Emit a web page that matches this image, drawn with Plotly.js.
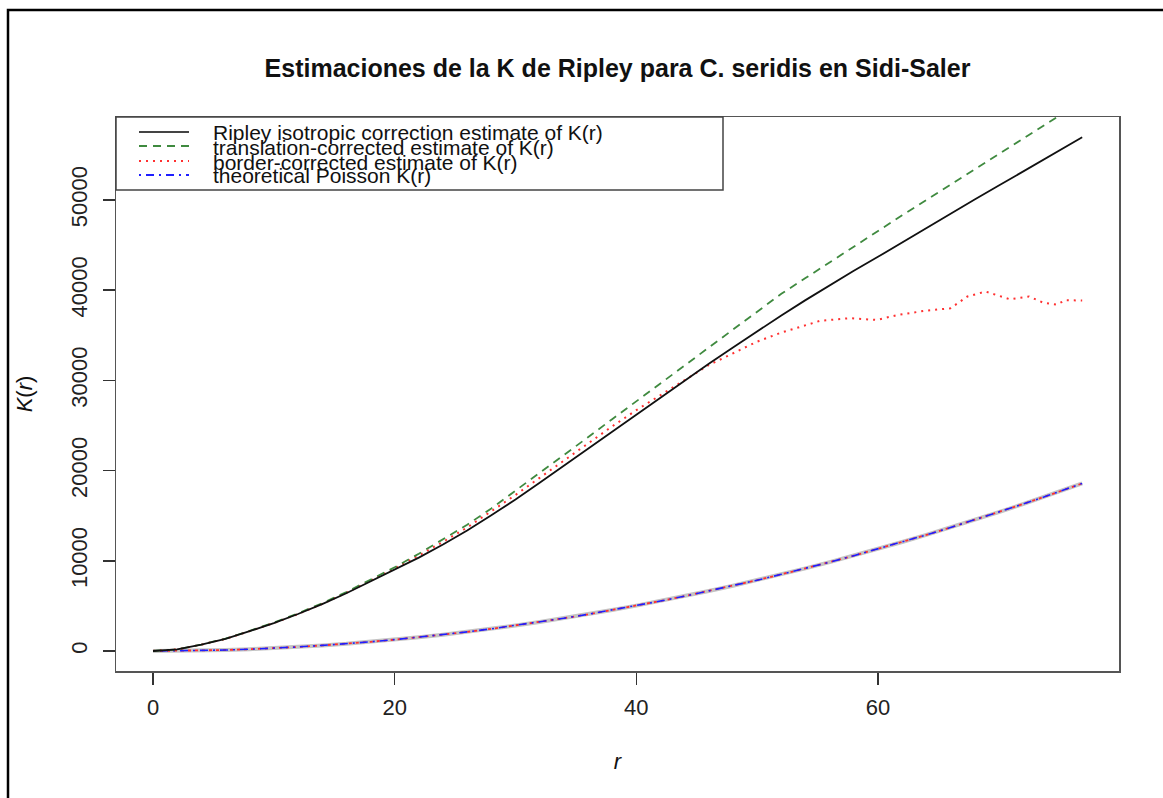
<!DOCTYPE html>
<html>
<head>
<meta charset="utf-8">
<script src="https://cdn.plot.ly/plotly-3.0.1.min.js"></script>
<style>
html,body{margin:0;padding:0;background:#fff;}
#chart{width:1163px;height:798px;}
</style>
</head>
<body>
<div id="chart"></div>
<script>
// r values (shared grid for iso, trans and theoretical)
const rGrid = [0,2,4,6,8,10,12,14,16,18,20,22,24,26,28,30,32,34,36,38,40,42,44,46,48,50,52,54,56,58,60,62,64,66,68,70,72,74,76,76.9];
const kIso = [0,180,700,1350,2200,3100,4100,5200,6400,7700,9000,10350,11800,13350,15050,16800,18650,20500,22400,24300,26200,28100,30000,31850,33650,35450,37200,38900,40550,42150,43700,45300,46900,48500,50050,51600,53150,54700,56250,56950];
const kTrans = [0,180,710,1370,2230,3150,4170,5300,6530,7870,9280,10780,12350,14000,15800,17750,19700,21700,23700,25700,27650,29650,31650,33650,35650,37650,39600,41350,43100,44850,46600,48300,50000,51700,53400,55100,56800,58500,60200,60950];
const kTheo = [0,10,50,110,200,310,450,620,800,1020,1260,1520,1810,2120,2460,2830,3220,3630,4070,4540,5030,5540,6080,6650,7240,7850,8500,9160,9850,10570,11310,12080,12870,13690,14530,15390,16290,17200,18150,18580];
// border-corrected estimate (own r grid)
const rBord = [0,2,4,6,8,10,12,14,16,18,20,22,24,26,28,30,32,34,36,38,40,42,44,46,48,50,52,54,55.2,57.7,59.9,61.6,63.8,66.0,67.4,68.9,70.3,70.9,72.5,73.7,74.8,75.5,76.9];
const kBord = [0,180,700,1350,2200,3100,4100,5220,6450,7780,9150,10600,12100,13700,15450,17300,19200,21100,23000,24900,26700,28350,30000,31700,33000,34300,35300,36100,36600,36900,36700,37250,37700,38000,39300,39850,39300,39000,39300,38600,38400,38900,38850];

const legendLabels = [
  "Ripley isotropic correction estimate of K(r)",
  "translation-corrected estimate of K(r)",
  "border-corrected estimate of K(r)",
  "theoretical Poisson K(r)"
];
const xTicks = [0,20,40,60];
const yTicks = [0,10000,20000,30000,40000,50000];

const FONT = "Liberation Sans, Arial, Helvetica, sans-serif";
const cGreen = "#3f8a3f", cRed = "#ff3030", cBlue = "#1f1fff";

const traces = [
  {x: rGrid, y: kTheo, mode:"lines", line:{color:"#c4c4c4", width:4}, hoverinfo:"skip"},
  {x: rGrid, y: kTheo, mode:"lines", line:{color:cRed, width:1.8, dash:"3px,4px"}, hoverinfo:"skip"},
  {x: rGrid, y: kTheo, mode:"lines", name:legendLabels[3], line:{color:cBlue, width:1.6, dash:"2px,5px,8px,5px"}},
  {x: rBord, y: kBord, mode:"lines", name:legendLabels[2], line:{color:cRed, width:2, dash:"2px,5px"}},
  {x: rGrid, y: kTrans, mode:"lines", name:legendLabels[1], line:{color:cGreen, width:1.8, dash:"8px,6px"}},
  {x: rGrid, y: kIso, mode:"lines", name:legendLabels[0], line:{color:"#111", width:1.8}}
];

// pixel helpers for legend box placement (paper coords)
const L=116, R=1119, T=117, B=671;
const px = v => (v-L)/(R-L);
const py = v => (B-v)/(B-T);

const legStyles = [
  {color:"#444", width:2, dash:"solid"},
  {color:cGreen, width:1.8, dash:"8px,6px"},
  {color:cRed, width:2, dash:"2px,5px"},
  {color:cBlue, width:1.8, dash:"2px,5px,8px,5px"}
];
const rowY = [132,146,161,175];

const shapes = [
  // outer frame
  {type:"rect", xref:"paper", yref:"paper", x0:px(8), x1:px(1175), y0:py(810), y1:py(10), line:{color:"#000", width:2.5}, fillcolor:"rgba(0,0,0,0)", layer:"above"},
  // legend box
  {type:"rect", xref:"paper", yref:"paper", x0:0, x1:px(723), y0:py(190), y1:1, line:{color:"#444", width:1.5}, fillcolor:"#fff", layer:"above"}
];
const annotations = [];
legendLabels.forEach((t,i)=>{
  shapes.push({type:"line", xref:"paper", yref:"paper", x0:px(139), x1:px(189), y0:py(rowY[i]), y1:py(rowY[i]), line:legStyles[i], layer:"above"});
  annotations.push({xref:"paper", yref:"paper", x:px(211), y:py(rowY[i]+1), xanchor:"left", yanchor:"middle", text:t, showarrow:false, font:{family:FONT, size:21, color:"#111"}});
});

const layout = {
  width:1163, height:798,
  margin:{l:116, r:44, t:117, b:127},
  paper_bgcolor:"#fff", plot_bgcolor:"#fff",
  showlegend:false,
  title:{text:"<b>Estimaciones de la K de Ripley para C. seridis en Sidi-Saler</b>", x:0.5, xref:"paper", xanchor:"center", y:1-68/798, yref:"container", yanchor:"middle", font:{family:FONT, size:25, color:"#111"}},
  xaxis:{range:[-3.062, 79.947], tickvals:xTicks, ticktext:xTicks.map(String), ticks:"outside", ticklen:12, tickwidth:1.5, tickcolor:"#333",
         showline:true, mirror:true, linecolor:"#555", linewidth:1.5, showgrid:false, zeroline:false,
         tickfont:{family:FONT, size:22, color:"#222"}, ticklabelstandoff:4,
         title:{text:"<i>r</i>", font:{family:FONT, size:22, color:"#111"}, standoff:34}},
  yaxis:{range:[-2217, 59202], tickvals:yTicks, ticktext:yTicks.map(String), ticks:"outside", ticklen:12, tickwidth:1.5, tickcolor:"#333",
         showline:true, mirror:true, linecolor:"#555", linewidth:1.5, showgrid:false, zeroline:false, tickangle:-90,
         tickfont:{family:FONT, size:22, color:"#222"}, ticklabelstandoff:7,
         title:{text:"<i>K</i>(<i>r</i>)", font:{family:FONT, size:22, color:"#111"}, standoff:28}},
  shapes:shapes,
  annotations:annotations
};

Plotly.newPlot("chart", traces, layout, {displayModeBar:false, staticPlot:true});
</script>
</body>
</html>
